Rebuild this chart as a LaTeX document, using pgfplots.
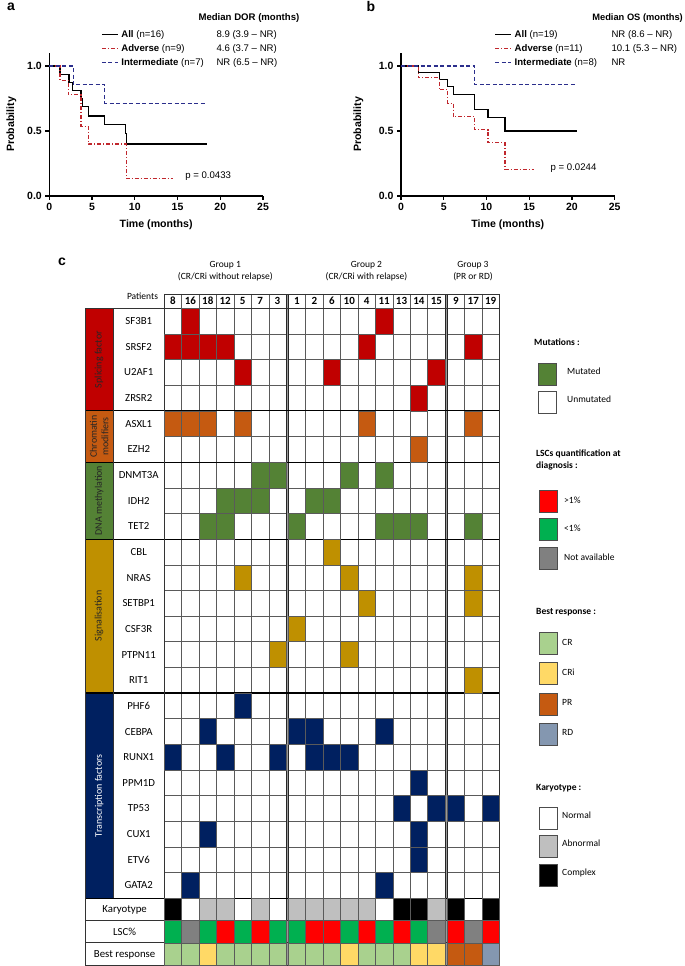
\documentclass[border=0pt]{standalone}
\usepackage{pgfplots}
\pgfplotsset{compat=1.18}
\usepackage{fontspec}
\setmainfont{Liberation Sans}
\newfontfamily\carl{Carlito}
\definecolor{splc}{HTML}{C00000}
\definecolor{chrc}{HTML}{C55A11}
\definecolor{dnac}{HTML}{548235}
\definecolor{sigc}{HTML}{BF9000}
\definecolor{trfc}{HTML}{002060}
\definecolor{lscred}{HTML}{FF0000}
\definecolor{lscgreen}{HTML}{00B050}
\definecolor{lscgray}{HTML}{808080}
\definecolor{kabn}{HTML}{BFBFBF}
\definecolor{crc}{HTML}{A9D18E}
\definecolor{cric}{HTML}{FFD966}
\definecolor{prc}{HTML}{C55A11}
\definecolor{rdc}{HTML}{8497B0}
\definecolor{kmred}{HTML}{C0272D}
\definecolor{kmblue}{HTML}{2B2E8C}
\definecolor{gridc}{HTML}{5A5A5A}
\pgfdeclareplotmark{cell}{\pgfpathrectangle{\pgfpoint{-8.71pt}{-12.825pt}}{\pgfpoint{17.42pt}{25.65pt}}\pgfusepathqfillstroke}
\pgfdeclareplotmark{cellb}{\pgfpathrectangle{\pgfpoint{-8.71pt}{-11.15pt}}{\pgfpoint{17.42pt}{22.3pt}}\pgfusepathqfillstroke}
\pgfdeclareplotmark{swatch}{\pgfpathrectangle{\pgfpoint{-9pt}{-11pt}}{\pgfpoint{18pt}{22pt}}\pgfusepathqfillstroke}
\newcommand\ptxt[4][]{\node[#1] at (#2pt,{966pt-#3pt}) {#4};}
\newcommand\kmf{\fontsize{9.6}{11}\selectfont}
\newcommand\cf{\carl\fontsize{9.5}{11}\selectfont}
\pgfplotsset{
 km/.style={
  scale only axis, width=213.7pt, height=143pt,
  xmin=0,xmax=25,ymin=0,ymax=1.1,
  axis x line*=bottom, axis y line*=left,
  axis line style={-, line width=1.1pt},
  xtick={0,5,10,15,20,25}, ytick={0,0.5,1},
  tick align=outside, major tick length=4pt,
  tick style={black, line width=1.1pt},
  yticklabel style={/pgf/number format/fixed,/pgf/number format/fixed zerofill,/pgf/number format/precision=1},
  /pgf/number format/assume math mode=true,
  tick label style={font=\bfseries\fontsize{10.5}{12}\selectfont},
  label style={font=\bfseries\fontsize{10.6}{12}\selectfont},
  xlabel={Time (months)}, ylabel={Probability},
  xlabel style={at={(axis description cs:0.5,-0.203)}, anchor=center},
  clip=false,
  legend cell align=left,
  legend image code/.code={\draw[##1] (0pt,0pt) -- (16pt,0pt);},
  legend style={draw=none, fill=none, inner sep=0pt, anchor=north west, row sep=0pt, column sep=3pt,
     font=\kmf, nodes={inner sep=0pt, text height=10pt, text depth=4pt}},
 },
 allc/.style={const plot, black, line width=1.2pt},
 advc/.style={const plot, kmred, line width=1.2pt, dash pattern=on 4pt off 2pt on 1pt off 2pt},
 intc/.style={const plot, kmblue, line width=1.2pt, dash pattern=on 4pt off 2.5pt},
 mut/.style={only marks, mark=cell, mark options={fill=#1, draw=gridc, line width=0.55pt}},
 mutb/.style={only marks, mark=cellb, mark options={fill=#1, draw=gridc, line width=0.55pt}},
 sw/.style={only marks, mark=swatch, mark options={fill=#1, draw=black!70, line width=0.6pt}},
 sep/.style={black, line width=1.2pt, forget plot},
 bord/.style={black!80, line width=0.8pt, forget plot},
 gl/.style={gridc, line width=0.55pt, forget plot},
}
\begin{document}
\begin{tikzpicture}
\path[use as bounding box] (0,0) rectangle (685pt,966pt);
% ---------------- panel a
\begin{axis}[km, at={(49.3pt,770pt)}, anchor=south west,
  ylabel style={at={(axis description cs:-0.178,0.5)}, anchor=center},
  legend style={at={(axis description cs:0.2419,1.1818)}}]
\addplot[allc] coordinates {(0,1) (1.25,0.9375) (2.3,0.875) (2.73,0.8125) (3.7,0.75) (3.87,0.6875) (4.57,0.615) (6.5,0.547) (8.87,0.478) (9.05,0.4) (18.4,0.4)};
\addlegendentry{\textbf{All} (n=16)}
\addplot[advc] coordinates {(0,1) (1.25,0.889) (2.23,0.778) (3.7,0.533) (4.57,0.4) (9.0,0.133) (14.5,0.133)};
\addlegendentry{\textbf{Adverse} (n=9)}
\addplot[intc] coordinates {(0,1) (2.8,0.857) (6.5,0.714) (18.4,0.714)};
\addlegendentry{\textbf{Intermediate} (n=7)}
\node[anchor=west, font=\kmf] at (axis cs:15.5,0.154) {p = 0.0433};
\end{axis}
% ---------------- panel b
\begin{axis}[km, at={(401pt,770pt)}, anchor=south west,
  ylabel style={at={(axis description cs:-0.2,0.5)}, anchor=center},
  legend style={at={(axis description cs:0.4366,1.1818)}}]
\addplot[allc] coordinates {(0,1) (2.03,0.947) (4.46,0.895) (5.48,0.842) (6.14,0.78) (8.6,0.665) (10.17,0.605) (12.17,0.5) (20.6,0.5)};
\addlegendentry{\textbf{All} (n=19)}
\addplot[advc] coordinates {(0,1) (2.03,0.909) (4.46,0.818) (5.48,0.713) (6.14,0.61) (8.6,0.51) (10.17,0.41) (12.17,0.205) (15.6,0.205)};
\addlegendentry{\textbf{Adverse} (n=11)}
\addplot[intc] coordinates {(0,1) (8.6,0.857) (20.6,0.857)};
\addlegendentry{\textbf{Intermediate} (n=8)}
\node[anchor=west, font=\kmf] at (axis cs:17.1,0.215) {p = 0.0244};
\end{axis}
% ---------------- panel c heatmap
\begin{axis}[at={(85pt,0.8pt)}, anchor=south west, scale only axis,
  width=414.42pt, height=671.2pt,
  xmin=-4.55, xmax=19.24, ymin=-0.557, ymax=25.61, y dir=reverse,
  hide axis, clip=false]
% category blocks
\addplot[fill=splc, draw=none, forget plot] coordinates {(-4.55,0) (-2.93,0) (-2.93,4) (-4.55,4)} --cycle;
\addplot[fill=chrc, draw=none, forget plot] coordinates {(-4.55,4) (-2.93,4) (-2.93,6) (-4.55,6)} --cycle;
\addplot[fill=dnac, draw=none, forget plot] coordinates {(-4.55,6) (-2.93,6) (-2.93,9) (-4.55,9)} --cycle;
\addplot[fill=sigc, draw=none, forget plot] coordinates {(-4.55,9) (-2.93,9) (-2.93,15) (-4.55,15)} --cycle;
\addplot[fill=trfc, draw=none, forget plot] coordinates {(-4.55,15) (-2.93,15) (-2.93,23) (-4.55,23)} --cycle;
% grid lines
\pgfplotsinvokeforeach{1,2,3,4,5,6,8.12,9.12,10.12,11.12,12.12,13.12,14.12,15.12,17.24,18.24}{
  \addplot[gl] coordinates {(#1,-0.557) (#1,25.61)};}
\pgfplotsinvokeforeach{1,2,3,5,7,8,10,11,12,13,14,16,17,18,19,20,21,22}{
  \addplot[gl] coordinates {(0,#1) (19.24,#1)};}
% mutations
\addplot[mut=splc] coordinates {(1.5,0.5) (12.62,0.5)
 (0.5,1.5) (1.5,1.5) (2.5,1.5) (3.5,1.5) (11.62,1.5) (17.74,1.5)
 (4.5,2.5) (9.62,2.5) (15.62,2.5)
 (14.62,3.5)};
\addplot[mut=chrc] coordinates {(0.5,4.5) (1.5,4.5) (2.5,4.5) (4.5,4.5) (11.62,4.5) (17.74,4.5)
 (14.62,5.5)};
\addplot[mut=dnac] coordinates {(5.5,6.5) (6.5,6.5) (10.62,6.5) (12.62,6.5)
 (3.5,7.5) (4.5,7.5) (5.5,7.5) (8.62,7.5) (9.62,7.5)
 (2.5,8.5) (3.5,8.5) (7.62,8.5) (12.62,8.5) (13.62,8.5) (14.62,8.5) (17.74,8.5)};
\addplot[mut=sigc] coordinates {(9.62,9.5)
 (4.5,10.5) (10.62,10.5) (17.74,10.5)
 (11.62,11.5) (17.74,11.5)
 (7.62,12.5)
 (6.5,13.5) (10.62,13.5)
 (17.74,14.5)};
\addplot[mut=trfc] coordinates {(4.5,15.5)
 (2.5,16.5) (7.62,16.5) (8.62,16.5) (12.62,16.5)
 (0.5,17.5) (3.5,17.5) (6.5,17.5) (8.62,17.5) (9.62,17.5) (10.62,17.5)
 (14.62,18.5)
 (13.62,19.5) (15.62,19.5) (16.74,19.5) (18.74,19.5)
 (2.5,20.5) (14.62,20.5)
 (14.62,21.5)
 (1.5,22.5) (12.62,22.5)};
% karyotype
\addplot[mutb=kabn] coordinates {(2.5,23.435) (3.5,23.435) (5.5,23.435) (7.62,23.435) (8.62,23.435) (9.62,23.435) (10.62,23.435) (11.62,23.435) (15.62,23.435)};
\addplot[mutb=black] coordinates {(0.5,23.435) (13.62,23.435) (14.62,23.435) (16.74,23.435) (18.74,23.435)};
% LSC
\addplot[mutb=lscred] coordinates {(3.5,24.305) (5.5,24.305) (8.62,24.305) (9.62,24.305) (11.62,24.305) (13.62,24.305) (16.74,24.305) (18.74,24.305)};
\addplot[mutb=lscgreen] coordinates {(0.5,24.305) (2.5,24.305) (4.5,24.305) (6.5,24.305) (7.62,24.305) (10.62,24.305) (12.62,24.305) (14.62,24.305)};
\addplot[mutb=lscgray] coordinates {(1.5,24.305) (15.62,24.305) (17.74,24.305)};
% best response
\addplot[mutb=crc] coordinates {(0.5,25.175) (1.5,25.175) (3.5,25.175) (4.5,25.175) (5.5,25.175) (6.5,25.175) (7.62,25.175) (8.62,25.175) (9.62,25.175) (11.62,25.175) (12.62,25.175) (13.62,25.175)};
\addplot[mutb=cric] coordinates {(2.5,25.175) (10.62,25.175) (14.62,25.175) (15.62,25.175)};
\addplot[mutb=prc] coordinates {(16.74,25.175) (17.74,25.175)};
\addplot[mutb=rdc] coordinates {(18.74,25.175)};
% group gaps
\addplot[fill=black!40, draw=black!85, line width=0.5pt, forget plot] coordinates {(7,-0.557) (7.12,-0.557) (7.12,25.61) (7,25.61)} --cycle;
\addplot[fill=black!40, draw=black!85, line width=0.5pt, forget plot] coordinates {(16.12,-0.557) (16.24,-0.557) (16.24,25.61) (16.12,25.61)} --cycle;
% separators and borders
\addplot[sep] coordinates {(-4.55,4) (19.24,4)};
\addplot[sep] coordinates {(-4.55,6) (19.24,6)};
\addplot[sep] coordinates {(-4.55,9) (19.24,9)};
\addplot[sep] coordinates {(-4.55,15) (19.24,15)};
\addplot[sep] coordinates {(-4.55,23) (19.24,23)};
\addplot[bord] coordinates {(-4.55,0) (19.24,0)};
\addplot[bord] coordinates {(-4.55,23.87) (19.24,23.87)};
\addplot[bord] coordinates {(-4.55,24.74) (19.24,24.74)};
\addplot[bord] coordinates {(-4.55,25.61) (19.24,25.61)};
\addplot[bord] coordinates {(0,-0.557) (19.24,-0.557)};
\addplot[bord] coordinates {(-4.55,0) (-4.55,25.61)};
\addplot[bord] coordinates {(-2.93,0) (-2.93,23)};
\addplot[bord] coordinates {(0,-0.557) (0,25.61)};
\addplot[bord] coordinates {(19.24,-0.557) (19.24,25.61)};
% legend swatches
\addplot[sw=dnac] coordinates {(22.0,2.561)};
\addplot[sw=white] coordinates {(22.0,3.653)};
\addplot[sw=lscred] coordinates {(22.04,7.532)};
\addplot[sw=lscgreen] coordinates {(22.04,8.624)};
\addplot[sw=lscgray] coordinates {(22.04,9.754)};
\addplot[sw=crc] coordinates {(22.07,13.068)};
\addplot[sw=cric] coordinates {(22.07,14.238)};
\addplot[sw=prc] coordinates {(22.07,15.446)};
\addplot[sw=rdc] coordinates {(22.07,16.616)};
\addplot[sw=white] coordinates {(22.07,19.871)};
\addplot[sw=kabn] coordinates {(22.07,20.963)};
\addplot[sw=black] coordinates {(22.07,22.094)};
% texts in the table
\begin{scope}[every node/.style={font=\carl\fontsize{10.8}{12}\selectfont, inner sep=0pt, text height=7pt, text depth=0pt}]
\foreach \g [count=\i from 0] in {SF3B1,SRSF2,U2AF1,ZRSR2,ASXL1,EZH2,DNMT3A,IDH2,TET2,CBL,NRAS,SETBP1,CSF3R,PTPN11,RIT1,PHF6,CEBPA,RUNX1,PPM1D,TP53,CUX1,ETV6,GATA2}
  {\edef\tmp{\noexpand\node at (axis cs:-1.465,\i.5) {\g};}\tmp}
\node at (axis cs:-2.275,23.435) {Karyotype};
\node at (axis cs:-2.275,24.305) {LSC\%};
\node at (axis cs:-2.275,25.175) {Best response};
\end{scope}
\begin{scope}[every node/.style={font=\carl\bfseries\fontsize{11}{12}\selectfont, inner sep=0pt, text height=7.2pt, text depth=0pt}]
\foreach \p/\x in {8/0.5,16/1.5,18/2.5,12/3.5,5/4.5,7/5.5,3/6.5,1/7.62,2/8.62,6/9.62,10/10.62,4/11.62,11/12.62,13/13.62,14/14.62,15/15.62,9/16.74,17/17.74,19/18.74}
  {\edef\tmp{\noexpand\node at (axis cs:\x,-0.2785) {\p};}\tmp}
\end{scope}
\begin{scope}[every node/.style={font=\carl\fontsize{10}{11}\selectfont, rotate=90, align=center, inner sep=0pt}]
\node[text=black!85] at (axis cs:-3.74,2) {Splicing factor};
\node[text=black!85, font=\carl\fontsize{10}{11.5}\selectfont] at (axis cs:-3.74,5) {Chromatin\\modifiers};
\node[text=black!85] at (axis cs:-3.74,7.5) {DNA methylation};
\node[text=black!85] at (axis cs:-3.74,12) {Signalisation};
\node[text=white] at (axis cs:-3.74,19) {Transcription factors};
\end{scope}
\end{axis}
% ---------------- free texts
\ptxt[font=\bfseries\fontsize{14}{16}\selectfont]{11}{7}{a}
\ptxt[font=\bfseries\fontsize{14}{16}\selectfont]{371}{7}{b}
\ptxt[font=\bfseries\fontsize{14}{16}\selectfont]{62}{262}{c}
\ptxt[anchor=base west, font=\bfseries\kmf]{195}{20.5}{Median DOR (months)}
\ptxt[anchor=base west, font=\kmf]{213}{37.5}{8.9 (3.9 -- NR)}
\ptxt[anchor=base west, font=\kmf]{213}{51.5}{4.6 (3.7 -- NR)}
\ptxt[anchor=base west, font=\kmf]{213}{65.5}{NR (6.5 -- NR)}
\ptxt[anchor=base east, inner xsep=0pt, font=\bfseries\fontsize{9.3}{11}\selectfont]{683}{20.5}{Median OS (months)}
\ptxt[anchor=base west, font=\kmf]{608}{37.5}{NR (8.6 -- NR)}
\ptxt[anchor=base west, font=\kmf]{608}{51.5}{10.1 (5.3 -- NR)}
\ptxt[anchor=base west, font=\kmf]{608}{65.5}{NR}
\ptxt[font=\cf]{225.3}{265}{Group 1}
\ptxt[font=\cf]{225.3}{277}{(CR/CRi without relapse)}
\ptxt[font=\cf]{366.5}{265}{Group 2}
\ptxt[font=\cf]{366.5}{277}{(CR/CRi with relapse)}
\ptxt[font=\cf]{473}{265}{Group 3}
\ptxt[font=\cf]{473}{277}{(PR or RD)}
\ptxt[font=\cf]{142.5}{296}{Patients}
\begin{scope}[every node/.style={anchor=west, inner sep=0pt, text height=6.1pt, text depth=0pt, font=\cf}]
\ptxt[font=\cf\bfseries]{534}{342}{Mutations :}
\ptxt{567}{371}{Mutated}
\ptxt{567}{399}{Unmutated}
\ptxt[font=\cf\bfseries]{536}{453}{LSCs quantification at}
\ptxt[font=\cf\bfseries]{536}{465}{diagnosis :}
\ptxt{564}{500}{>1\%}
\ptxt{564}{528}{<1\%}
\ptxt{564}{557}{Not available}
\ptxt[font=\cf\bfseries]{536}{611}{Best response :}
\ptxt{562}{642}{CR}
\ptxt{562}{672}{CRi}
\ptxt{562}{702}{PR}
\ptxt{562}{732}{RD}
\ptxt[font=\cf\bfseries]{536}{787}{Karyotype :}
\ptxt{562}{815}{Normal}
\ptxt{562}{843}{Abnormal}
\ptxt{562}{872}{Complex}
\end{scope}
\end{tikzpicture}
\end{document}
